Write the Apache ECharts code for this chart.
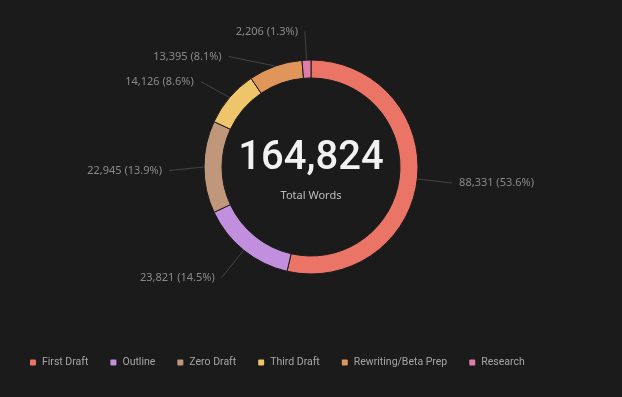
<!DOCTYPE html>
<html><head><meta charset="utf-8">
<script src="https://cdn.jsdelivr.net/npm/echarts@6/dist/echarts.min.js"></script>
<style>html,body{margin:0;padding:0;background:#1b1b1b;}#c{width:622px;height:397px;}</style>
</head><body><div id="c"></div>
<script>
const categories = ["First Draft","Outline","Zero Draft","Third Draft","Rewriting/Beta Prep","Research"];
const values = [88331, 23821, 22945, 14126, 13395, 2206];
const colors = ["#ea7466","#c18fdd","#c0977a","#eec56b","#e0955a","#e07ca8"];
const totalLabel = "Total Words";
const total = values.reduce((a,b)=>a+b,0);
const chart = echarts.init(document.getElementById('c'));
chart.setOption({
  backgroundColor:'#1b1b1b',
  color: colors,
  legend:{
    top: 352, left: 23, itemWidth:8, itemHeight:8, itemGap:20, icon:'roundRect',
    textStyle:{color:'#a6a6a6', fontSize:10.5, fontFamily:'Roboto'},
    data: categories
  },
  graphic:[
    {type:'text', x:311, y:139, style:{text: total.toLocaleString('en-US'), fill:'#f2f2f2', font:'500 40px Roboto', align:'center', textAlign:'center'}},
    {type:'text', x:311, y:190, style:{text: totalLabel, fill:'#bdbdbd', font:'11px "Noto Sans"', align:'center', textAlign:'center'}}
  ],
  series:[{
    type:'pie', top:19, bottom:40, left:0, right:0,
    center:[311,148], radius:[89,107], startAngle:90, clockwise:true,
    percentPrecision:1, avoidLabelOverlap:true,
    itemStyle:{borderColor:'#1b1b1b', borderWidth:1},
    label:{color:'#8a8a8a', fontSize:11, lineHeight:23, padding:[0,7], fontFamily:'Noto Sans', distanceToLabelLine:0,
      formatter: p => p.value.toLocaleString('en-US') + ' (' + p.percent.toFixed(1) + '%)'},
    labelLine:{length:35, length2:0, lineStyle:{color:'#444', width:1}},
    emphasis:{disabled:true},
    data: categories.map((n,i)=>({name:n, value:values[i]}))
  }]
});
</script></body></html>
